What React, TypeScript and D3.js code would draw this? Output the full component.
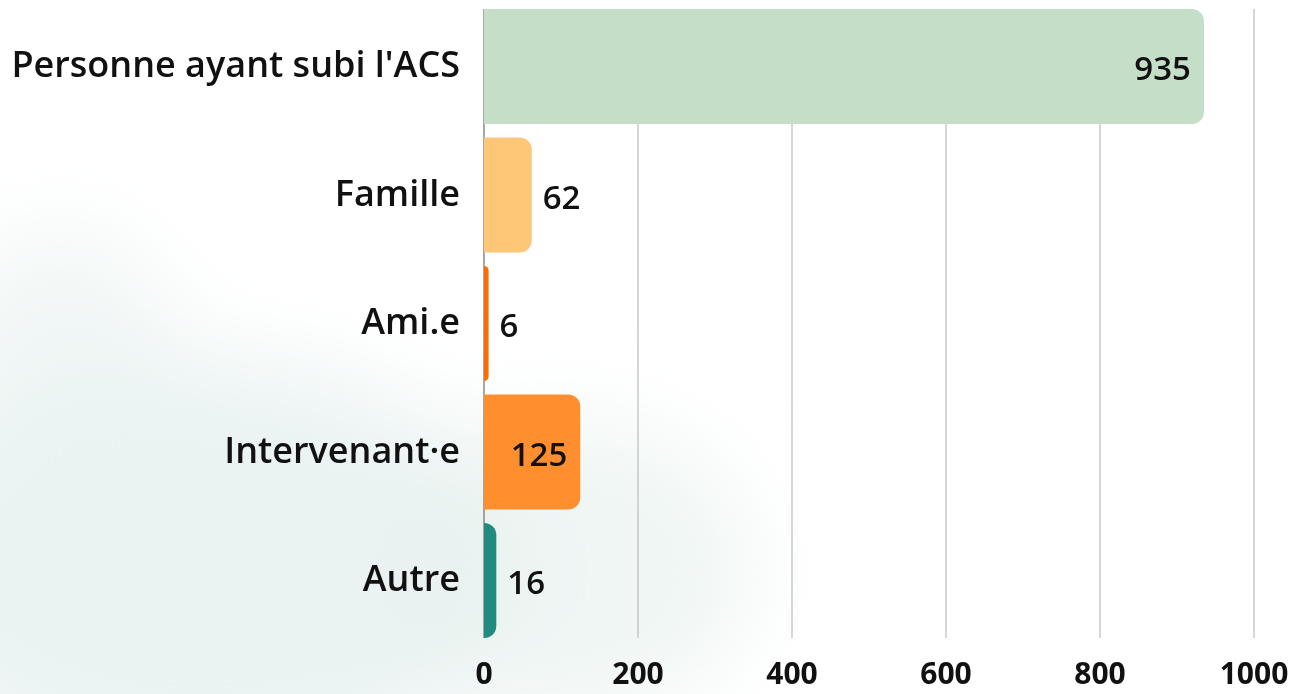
import React, { useEffect, useRef } from 'react'
import * as d3 from 'd3'

const categories = ["Personne ayant subi l'ACS", 'Famille', 'Ami.e', 'Intervenant·e', 'Autre']
const values = [935, 62, 6, 125, 16]
const colors = ['#c4dec8', '#fec677', '#ff6d00', '#ff8f2e', '#228b80']
const labelInside = [true, false, false, true, false]
const ticks = [0, 200, 400, 600, 800, 1000]

export default function App() {
  const ref = useRef<SVGSVGElement>(null)

  useEffect(() => {
    const width = 1310
    const height = 694
    const font = '"Open Sans", sans-serif'
    const svg = d3.select(ref.current)
    svg.selectAll('*').remove()
    svg.attr('width', width).attr('height', height)

    const defs = svg.append('defs')
    const blur = defs.append('filter').attr('id', 'blur').attr('x', '-50%').attr('y', '-50%').attr('width', '200%').attr('height', '200%')
    blur.append('feGaussianBlur').attr('stdDeviation', 45)

    // fond aquarelle
    svg.append('rect').attr('width', width).attr('height', height).attr('fill', '#ffffff')
    const bg = svg.append('g').attr('filter', 'url(#blur)')
    bg.append('ellipse').attr('cx', 200).attr('cy', 570).attr('rx', 320).attr('ry', 210).attr('fill', '#e3efed').attr('opacity', 0.75)
    bg.append('ellipse').attr('cx', 560).attr('cy', 570).attr('rx', 190).attr('ry', 150).attr('fill', '#e8f2f0').attr('opacity', 0.7)
    bg.append('ellipse').attr('cx', 60).attr('cy', 370).attr('rx', 120).attr('ry', 140).attr('fill', '#e8f2f0').attr('opacity', 0.6)

    const x = d3.scaleLinear().domain([0, 1000]).range([484, 1254])
    const y = d3.scaleBand<string>()
      .domain(categories)
      .range([2.25, 644.75])
      .paddingInner(0.105)
      .paddingOuter(0.0525)

    const g = svg.append('g')

    // lignes de grille
    g.selectAll('.grid')
      .data(ticks.slice(1))
      .enter()
      .append('line')
      .attr('x1', d => x(d))
      .attr('x2', d => x(d))
      .attr('y1', 9)
      .attr('y2', 638)
      .attr('stroke', '#c8c8c8')
      .attr('stroke-width', 1.5)

    g.append('line')
      .attr('x1', x(0)).attr('x2', x(0))
      .attr('y1', 9).attr('y2', 638)
      .attr('stroke', '#8a8a8a')
      .attr('stroke-width', 1.5)

    // barres arrondies à droite
    const r = 12
    const barPath = (v: number, c: string) => {
      const x0 = x(0)
      const x1 = x(v)
      const y0 = y(c) as number
      const h = y.bandwidth()
      const rr = Math.min(r, (x1 - x0), h / 2)
      const p = d3.path()
      p.moveTo(x0, y0)
      p.lineTo(x1 - rr, y0)
      p.arcTo(x1, y0, x1, y0 + rr, rr)
      p.lineTo(x1, y0 + h - rr)
      p.arcTo(x1, y0 + h, x1 - rr, y0 + h, rr)
      p.lineTo(x0, y0 + h)
      p.closePath()
      return p.toString()
    }

    g.selectAll('.bar')
      .data(categories)
      .enter()
      .append('path')
      .attr('d', (d, i) => barPath(values[i], d))
      .attr('fill', (d, i) => colors[i])

    // valeurs
    g.selectAll('.val')
      .data(categories)
      .enter()
      .append('text')
      .text((d, i) => values[i])
      .attr('x', (d, i) => labelInside[i] ? x(values[i]) - 13 : x(values[i]) + 11)
      .attr('y', d => (y(d) as number) + y.bandwidth() / 2 + 2)
      .attr('dy', '0.35em')
      .attr('text-anchor', (d, i) => labelInside[i] ? 'end' : 'start')
      .attr('font-family', font)
      .attr('font-weight', 600)
      .attr('font-size', 33)
      .attr('fill', '#111')

    // libellés catégories
    g.selectAll('.cat')
      .data(categories)
      .enter()
      .append('text')
      .text(d => d)
      .attr('x', 460)
      .attr('y', d => (y(d) as number) + y.bandwidth() / 2 - 2)
      .attr('dy', '0.35em')
      .attr('text-anchor', 'end')
      .attr('font-family', font)
      .attr('font-weight', 600)
      .attr('font-size', 36)
      .attr('fill', '#111')

    // axe x
    g.selectAll('.tick')
      .data(ticks)
      .enter()
      .append('text')
      .text(d => d)
      .attr('x', d => x(d))
      .attr('y', 684)
      .attr('text-anchor', 'middle')
      .attr('font-family', font)
      .attr('font-weight', 700)
      .attr('font-size', 30)
      .attr('fill', '#111')
  }, [])

  return (
    <div style={{ position: 'absolute', left: 0, top: 0 }}>
      <svg ref={ref} style={{ display: 'block' }}></svg>
    </div>
  )
}
